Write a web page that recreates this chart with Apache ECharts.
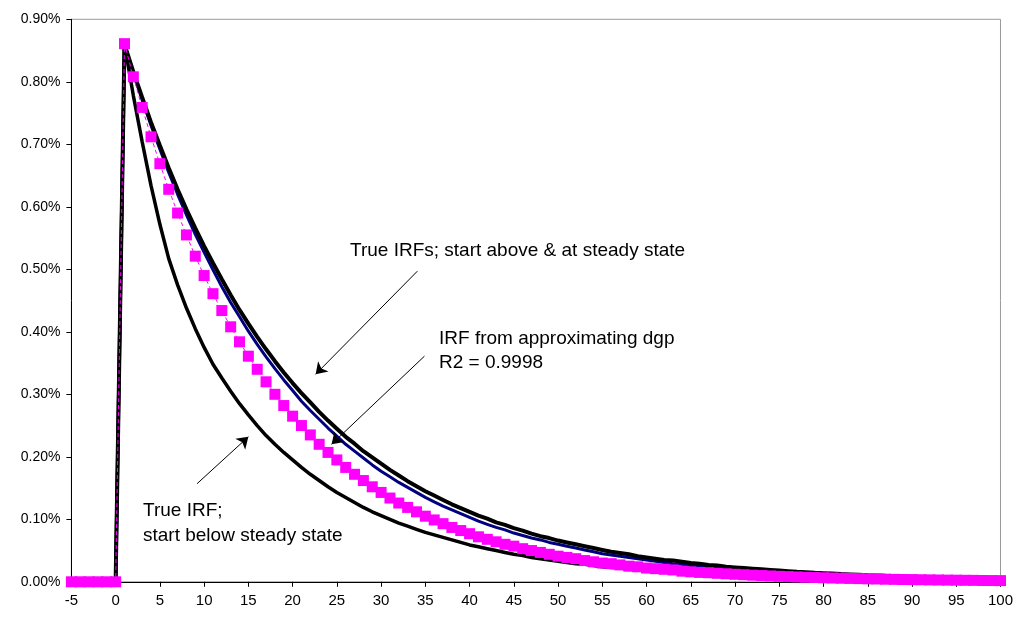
<!DOCTYPE html>
<html>
<head>
<meta charset="utf-8">
<title>IRF comparison</title>
<script src="https://cdn.jsdelivr.net/npm/echarts@6/dist/echarts.min.js"></script>
<style>
  html, body { margin: 0; padding: 0; background: #fff; }
  #chart { width: 1016px; height: 619px; }
</style>
</head>
<body>
<div id="chart"></div>
<script>
// periods -5 .. 100
const periods = [
  -5, -4, -3, -2, -1, 0,
  1, 2, 3, 4, 5, 6, 7, 8, 9, 10,
  11, 12, 13, 14, 15, 16, 17, 18, 19, 20,
  21, 22, 23, 24, 25, 26, 27, 28, 29, 30,
  31, 32, 33, 34, 35, 36, 37, 38, 39, 40,
  41, 42, 43, 44, 45, 46, 47, 48, 49, 50,
  51, 52, 53, 54, 55, 56, 57, 58, 59, 60,
  61, 62, 63, 64, 65, 66, 67, 68, 69, 70,
  71, 72, 73, 74, 75, 76, 77, 78, 79, 80,
  81, 82, 83, 84, 85, 86, 87, 88, 89, 90,
  91, 92, 93, 94, 95, 96, 97, 98, 99, 100
];

// values in percent
// IRF from approximating dgp (magenta squares)
const approxIRF = [
  0, 0, 0, 0, 0, 0,
  0.861, 0.808, 0.759, 0.712, 0.669, 0.628, 0.590, 0.555, 0.521, 0.490,
  0.461, 0.434, 0.408, 0.384, 0.361, 0.340, 0.320, 0.300, 0.282, 0.265,
  0.250, 0.235, 0.220, 0.207, 0.195, 0.183, 0.172, 0.162, 0.152, 0.143,
  0.134, 0.126, 0.119, 0.112, 0.105, 0.099, 0.093, 0.087, 0.082, 0.077,
  0.072, 0.068, 0.064, 0.060, 0.057, 0.053, 0.050, 0.047, 0.044, 0.041,
  0.039, 0.037, 0.034, 0.032, 0.030, 0.029, 0.027, 0.025, 0.024, 0.022,
  0.021, 0.020, 0.019, 0.017, 0.016, 0.015, 0.0145, 0.0136, 0.0128, 0.0120,
  0.0113, 0.0106, 0.0100, 0.0094, 0.0088, 0.0083, 0.0078, 0.0073, 0.0069, 0.0065,
  0.0061, 0.0057, 0.0054, 0.0051, 0.0048, 0.0045, 0.0042, 0.0039, 0.0037, 0.0035,
  0.0033, 0.0031, 0.0029, 0.0027, 0.0026, 0.0024, 0.0023, 0.0021, 0.0020, 0.0019
];

// true IRF, start above steady state (black)
const trueAbove = [
  0, 0, 0, 0, 0, 0,
  0.860, 0.816, 0.775, 0.735, 0.698, 0.662, 0.628, 0.596, 0.566, 0.537,
  0.510, 0.484, 0.459, 0.435, 0.413, 0.392, 0.372, 0.353, 0.335, 0.318,
  0.302, 0.287, 0.272, 0.258, 0.245, 0.232, 0.221, 0.209, 0.199, 0.189,
  0.179, 0.170, 0.161, 0.153, 0.145, 0.138, 0.131, 0.124, 0.118, 0.112,
  0.106, 0.101, 0.095, 0.091, 0.086, 0.082, 0.077, 0.073, 0.070, 0.066,
  0.063, 0.060, 0.057, 0.054, 0.051, 0.048, 0.046, 0.044, 0.041, 0.039,
  0.037, 0.035, 0.034, 0.032, 0.030, 0.029, 0.027, 0.026, 0.024, 0.023,
  0.022, 0.021, 0.020, 0.019, 0.018, 0.017, 0.016, 0.0153, 0.0145, 0.0138,
  0.0131, 0.0124, 0.0118, 0.0112, 0.0106, 0.0101, 0.0095, 0.0090, 0.0086, 0.0082,
  0.0077, 0.0073, 0.0070, 0.0066, 0.0063, 0.0059, 0.0057, 0.0053, 0.0051, 0.0048
];

// true IRF, start at steady state (navy)
const trueAt = [
  0, 0, 0, 0, 0, 0,
  0.860, 0.814, 0.771, 0.730, 0.692, 0.655, 0.620, 0.587, 0.556, 0.527,
  0.499, 0.472, 0.447, 0.424, 0.401, 0.380, 0.360, 0.341, 0.323, 0.306,
  0.289, 0.274, 0.260, 0.246, 0.233, 0.220, 0.209, 0.198, 0.187, 0.177,
  0.168, 0.159, 0.151, 0.143, 0.135, 0.128, 0.121, 0.115, 0.109, 0.103,
  0.097, 0.092, 0.087, 0.083, 0.078, 0.074, 0.070, 0.067, 0.063, 0.060,
  0.057, 0.054, 0.051, 0.048, 0.045, 0.043, 0.041, 0.039, 0.037, 0.035,
  0.033, 0.031, 0.029, 0.028, 0.026, 0.025, 0.024, 0.022, 0.021, 0.020,
  0.019, 0.018, 0.017, 0.016, 0.0153, 0.0145, 0.0137, 0.0130, 0.0123, 0.0116,
  0.0110, 0.0104, 0.0099, 0.0093, 0.0088, 0.0084, 0.0079, 0.0075, 0.0071, 0.0067,
  0.0064, 0.0060, 0.0057, 0.0054, 0.0051, 0.0048, 0.0046, 0.0043, 0.0041, 0.0039
];

// true IRF, start below steady state (black, lower)
const trueBelow = [
  0, 0, 0, 0, 0, 0,
  0.860, 0.778, 0.704, 0.634, 0.572, 0.517, 0.475, 0.438, 0.405, 0.375,
  0.348, 0.326, 0.305, 0.285, 0.267, 0.250, 0.234, 0.220, 0.207, 0.195,
  0.183, 0.172, 0.162, 0.152, 0.143, 0.135, 0.127, 0.119, 0.112, 0.106,
  0.100, 0.094, 0.089, 0.084, 0.079, 0.075, 0.071, 0.067, 0.063, 0.059,
  0.056, 0.053, 0.050, 0.047, 0.044, 0.042, 0.039, 0.037, 0.035, 0.033,
  0.031, 0.029, 0.028, 0.026, 0.024, 0.023, 0.022, 0.020, 0.019, 0.018,
  0.017, 0.016, 0.015, 0.014, 0.013, 0.0122, 0.0115, 0.0108, 0.0101, 0.0095,
  0.0089, 0.0084, 0.0079, 0.0074, 0.0070, 0.0066, 0.0062, 0.0058, 0.0055, 0.0052,
  0.0049, 0.0046, 0.0043, 0.0040, 0.0038, 0.0036, 0.0034, 0.0032, 0.0030, 0.0028,
  0.0026, 0.0025, 0.0023, 0.0022, 0.0021, 0.0019, 0.0018, 0.0017, 0.0016, 0.0015
];

// annotation arrows [from, to] in data units (x period, y percent)
const arrows = [
  [[34.1, 0.497], [22.6, 0.332]],
  [[34.9, 0.361], [24.4, 0.220]],
  [[9.2, 0.157], [15.0, 0.232]]
];

const pairs = vals => periods.map((p, i) => [p, vals[i]]);

const chart = echarts.init(document.getElementById('chart'));
const font = '"Liberation Sans", Arial, sans-serif';

chart.setOption({
  animation: false,
  backgroundColor: '#fff',
  grid: {
    left: 71.4, right: 14.3, top: 19.3, bottom: 37.2,
    show: true, borderColor: '#9a9a9a', borderWidth: 1
  },
  xAxis: {
    type: 'value',
    min: -5, max: 100, interval: 5,
    axisLine: { onZero: false, lineStyle: { color: '#000', width: 1 } },
    axisTick: { show: true, inside: false, length: 5, lineStyle: { color: '#000' } },
    axisLabel: { color: '#000', fontSize: 15, fontFamily: font, margin: 12 },
    splitLine: { show: false }
  },
  yAxis: {
    type: 'value',
    min: 0, max: 0.9, interval: 0.1,
    axisLine: { show: true, onZero: false, lineStyle: { color: '#000', width: 1 } },
    axisTick: { show: true, inside: false, length: 5, lineStyle: { color: '#000' } },
    axisLabel: {
      color: '#000', fontSize: 14, fontFamily: font, margin: 11,
      formatter: v => v.toFixed(2) + '%'
    },
    splitLine: { show: false }
  },
  series: [
    {
      name: 'True IRF; start below steady state',
      type: 'line',
      data: pairs(trueBelow),
      showSymbol: false,
      lineStyle: { color: '#000', width: 3.5 },
      z: 2,
      markLine: {
        silent: true,
        symbol: ['none', 'arrow'],
        symbolSize: 11,
        label: { show: false },
        lineStyle: { color: '#000', width: 1, type: 'solid' },
        data: arrows.map(a => [{ coord: a[0] }, { coord: a[1] }])
      }
    },
    {
      name: 'True IRF; start at steady state',
      type: 'line',
      data: pairs(trueAt),
      showSymbol: false,
      lineStyle: { color: '#000080', width: 3 },
      z: 3
    },
    {
      name: 'True IRF; start above steady state',
      type: 'line',
      data: pairs(trueAbove),
      showSymbol: false,
      lineStyle: { color: '#000', width: 4 },
      z: 4
    },
    {
      name: 'IRF from approximating dgp',
      type: 'line',
      data: pairs(approxIRF),
      symbol: 'rect',
      symbolSize: 11,
      itemStyle: { color: '#ff00ff' },
      lineStyle: { color: '#ff00ff', width: 1, type: [4, 3] },
      z: 5
    }
  ],
  graphic: [
    {
      type: 'text', left: 350, top: 241,
      style: { text: 'True IRFs; start above & at steady state', font: '19px ' + font, fill: '#000' }
    },
    {
      type: 'text', left: 439, top: 327,
      style: { text: 'IRF from approximating dgp\nR2 = 0.9998', font: '19px ' + font, fill: '#000', lineHeight: 24 }
    },
    {
      type: 'text', left: 143, top: 498,
      style: { text: 'True IRF;\nstart below steady state', font: '19px ' + font, fill: '#000', lineHeight: 25 }
    }
  ]
});
</script>
</body>
</html>
